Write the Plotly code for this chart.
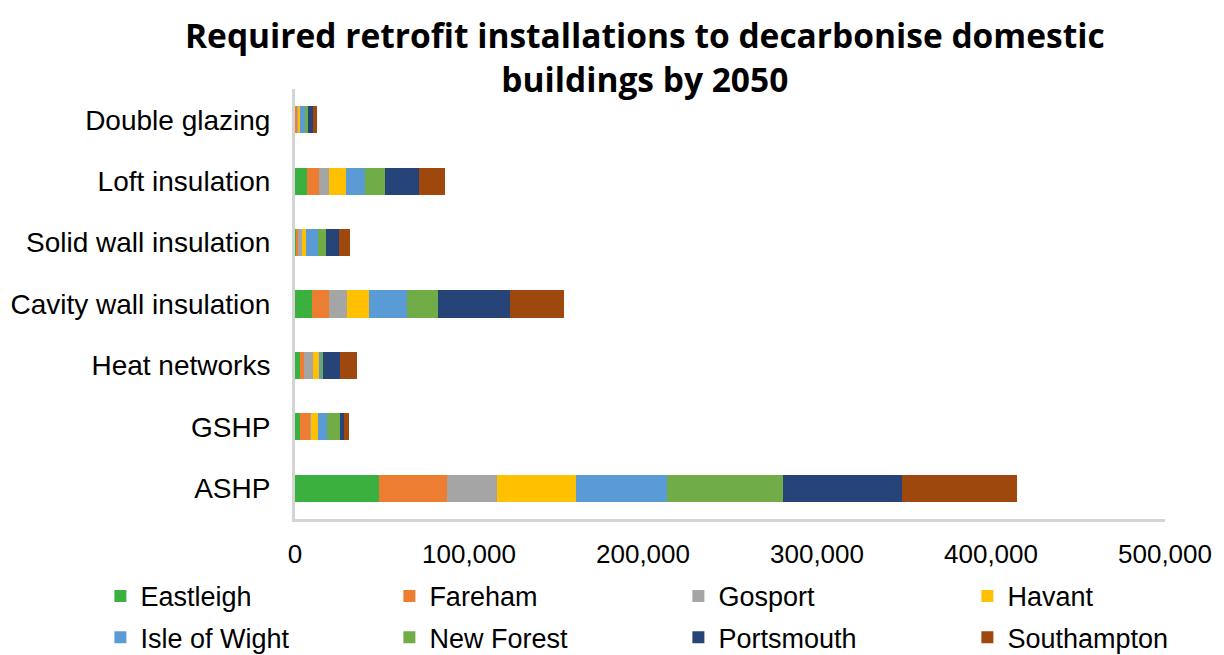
import plotly.graph_objects as go

categories = ["Double glazing", "Loft insulation", "Solid wall insulation",
              "Cavity wall insulation", "Heat networks", "GSHP", "ASHP"]

eastleigh   = [500, 6700, 500, 10000, 2700, 2700, 48500]
fareham     = [700, 7100, 1200, 9800, 2300, 6100, 39000]
gosport     = [600, 5600, 2300, 9800, 5400, 300, 28400]
havant      = [1000, 9800, 2300, 13200, 3300, 4000, 45700]
isle_wight  = [3000, 10900, 6900, 21300, 1500, 5200, 52300]
new_forest  = [1900, 11500, 4800, 17800, 1000, 7700, 66300]
portsmouth  = [2700, 19700, 7300, 41400, 9600, 2300, 68900]
southampton = [2100, 14800, 6300, 31200, 10000, 2500, 66000]

series_names = ["Eastleigh", "Fareham", "Gosport", "Havant",
                "Isle of Wight", "New Forest", "Portsmouth", "Southampton"]
series_values = [eastleigh, fareham, gosport, havant,
                 isle_wight, new_forest, portsmouth, southampton]
colors = ["#3AB03E", "#ED7D31", "#A5A5A5", "#FFC000",
          "#5B9BD5", "#70AD47", "#264478", "#9E480E"]

x_ticks = [0, 100000, 200000, 300000, 400000, 500000]

fig = go.Figure()
for i, (name, vals, col) in enumerate(zip(series_names, series_values, colors)):
    fig.add_trace(go.Bar(
        y=categories, x=vals, name=name, orientation="h",
        marker=dict(color=col, line=dict(width=0)),
        legend="legend" if i < 4 else "legend2",
    ))

FONT = "Liberation Sans, Arial, sans-serif"
leg_common = dict(
    orientation="h", xref="paper", yref="paper",
    x=-0.2237, xanchor="left", yanchor="middle",
    entrywidth=244, entrywidthmode="pixels",
    font=dict(family=FONT, size=27, color="#000000"),
    traceorder="normal", bgcolor="rgba(0,0,0,0)",
)

fig.update_layout(
    barmode="stack",
    bargap=0.56,
    width=1224, height=655,
    paper_bgcolor="white", plot_bgcolor="white",
    margin=dict(l=295, r=59, t=89, b=136, autoexpand=False),
    xaxis=dict(
        range=[0, 500000], tickvals=x_ticks, tickformat=",",
        showgrid=False, zeroline=False,
        showline=True, linecolor="#D4D4D4", linewidth=3,
        ticks="", ticklabelstandoff=10,
        tickfont=dict(family=FONT, size=26, color="#000000"),
    ),
    yaxis=dict(
        categoryorder="array", categoryarray=categories[::-1],
        showgrid=False, zeroline=False,
        showline=True, linecolor="#D4D4D4", linewidth=3,
        ticks="", ticklabelstandoff=16,
        tickfont=dict(family=FONT, size=28, color="#000000"),
    ),
    legend=dict(y=-0.180, **leg_common),
    legend2=dict(y=-0.276, **leg_common),
    annotations=[dict(
        text="<b>Required retrofit installations to decarbonise domestic<br>buildings by 2050</b>",
        xref="paper", yref="paper", x=0.402, y=1.074,
        xanchor="center", yanchor="middle", showarrow=False,
        font=dict(family="Open Sans, sans-serif", size=33.5, color="#000000"),
    )],
)

fig.write_html("out.html", config={"displayModeBar": False},
               post_script="document.body.style.margin='0';")
